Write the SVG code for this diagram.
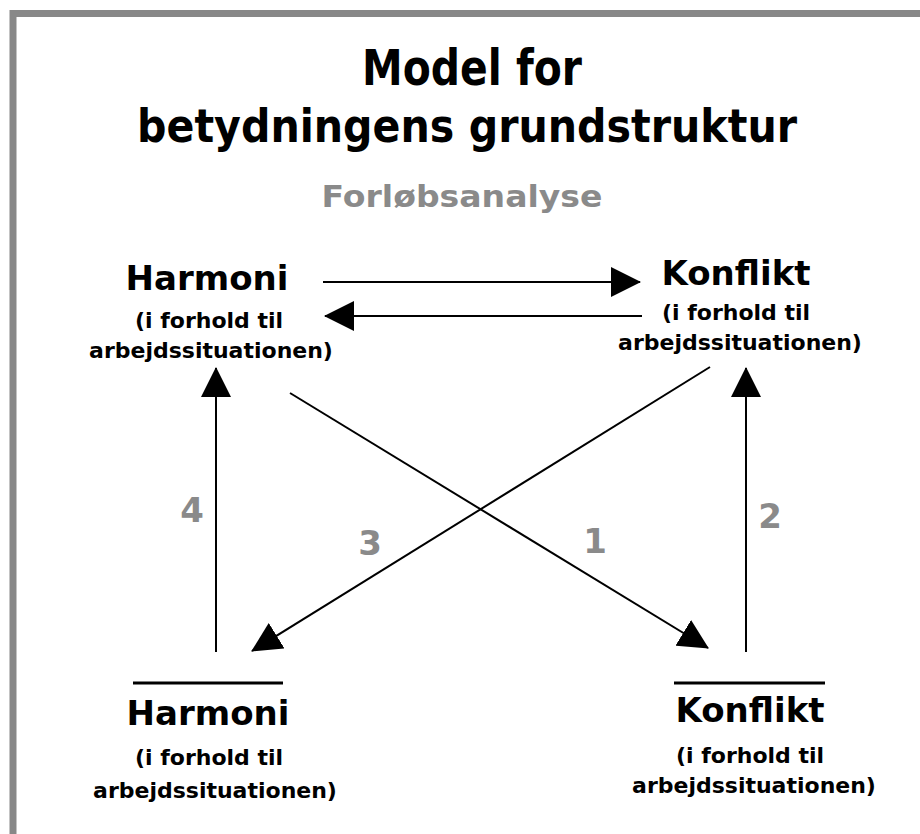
<svg xmlns="http://www.w3.org/2000/svg" width="920" height="834" viewBox="0 0 920 834">
<style>
.t{font-family:"DejaVu Sans","Verdana",sans-serif;font-weight:bold;fill:#000;text-anchor:middle}
.h{font-size:34px}
.s{font-size:22px}
.n{font-family:"DejaVu Sans",sans-serif;font-weight:bold;fill:#8a8a8a;font-size:34px;text-anchor:middle}
.c{stroke:#000;stroke-width:2;fill:none}
.ov{stroke:#000;stroke-width:3}
</style>
<defs>
<marker id="ah" markerUnits="userSpaceOnUse" markerWidth="30" markerHeight="30" refX="29" refY="15" orient="auto" viewBox="0 0 30 30">
<path d="M0,0 L30,15 L0,30 z" fill="#000"/>
</marker>
</defs>
<rect x="0" y="0" width="920" height="834" fill="#fff"/>
<rect x="13" y="13.5" width="940" height="860" fill="none" stroke="#888" stroke-width="7"/>
<g id="title">
<text class="t" x="472" y="85" font-size="50" textLength="220" lengthAdjust="spacingAndGlyphs">Model for</text>
<text class="t" x="467" y="142" font-size="47" textLength="660" lengthAdjust="spacingAndGlyphs">betydningens grundstruktur</text>
<text class="t" x="462" y="207" font-size="30" style="fill:#8a8a8a" textLength="281" lengthAdjust="spacingAndGlyphs">Forløbsanalyse</text>
</g>
<g id="connectors">
<line class="c" x1="323" y1="282" x2="640" y2="282" marker-end="url(#ah)"/>
<line class="c" x1="642" y1="316" x2="325" y2="316" marker-end="url(#ah)"/>
<line class="c" x1="216" y1="652" x2="216" y2="368" marker-end="url(#ah)"/>
<line class="c" x1="746" y1="652" x2="746" y2="368" marker-end="url(#ah)"/>
<line class="c" x1="290" y1="393" x2="708" y2="648" marker-end="url(#ah)"/>
<line class="c" x1="710" y1="367" x2="252" y2="651" marker-end="url(#ah)"/>
</g>
<g id="labels">
<text class="n" x="192" y="522">4</text>
<text class="n" x="370" y="555">3</text>
<text class="n" x="595" y="553">1</text>
<text class="n" x="770" y="528">2</text>
</g>
<g id="harmoni-top">
<text class="t h" x="207" y="290">Harmoni</text>
<text class="t s" x="209" y="328">(i forhold til</text>
<text class="t s" x="211" y="358">arbejdssituationen)</text>
</g>
<g id="konflikt-top">
<text class="t h" x="736" y="285">Konflikt</text>
<text class="t s" x="736" y="320">(i forhold til</text>
<text class="t s" x="740" y="350">arbejdssituationen)</text>
</g>
<g id="harmoni-bottom">
<line class="ov" x1="133" y1="683" x2="283" y2="683"/>
<text class="t h" x="208" y="725">Harmoni</text>
<text class="t s" x="209" y="765">(i forhold til</text>
<text class="t s" x="215" y="798">arbejdssituationen)</text>
</g>
<g id="konflikt-bottom">
<line class="ov" x1="674" y1="683" x2="825" y2="683"/>
<text class="t h" x="750" y="722">Konflikt</text>
<text class="t s" x="750" y="763">(i forhold til</text>
<text class="t s" x="754" y="793">arbejdssituationen)</text>
</g>
</svg>
